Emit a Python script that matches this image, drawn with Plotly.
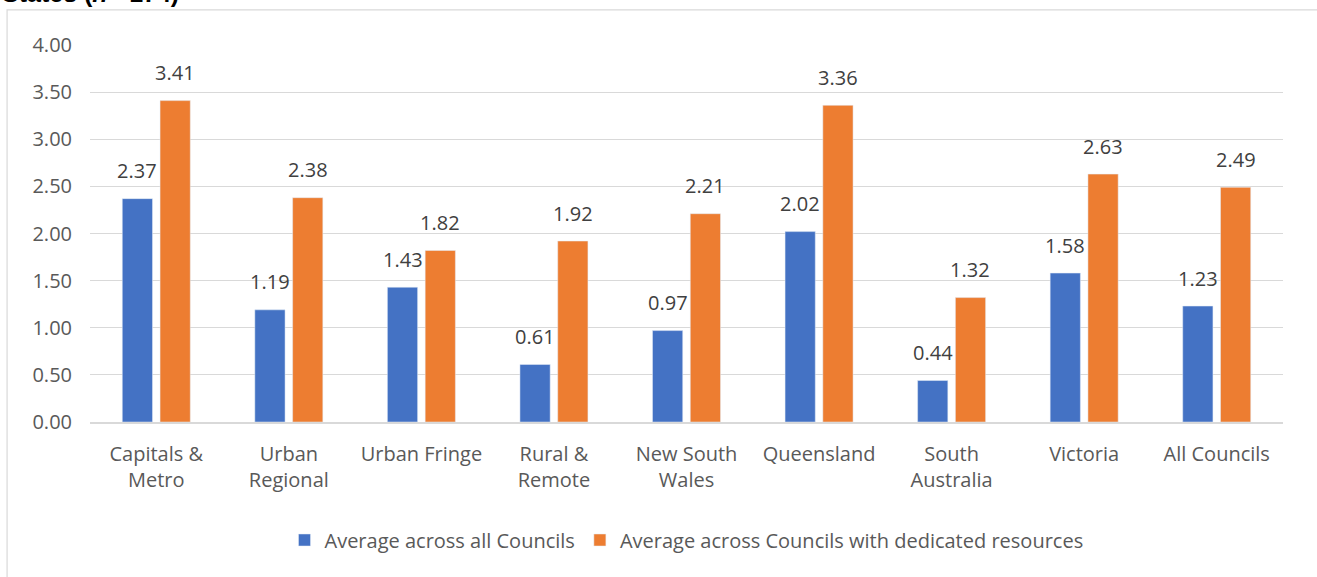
import plotly.graph_objects as go

categories = ["Capitals &<br>Metro", "Urban<br>Regional", "Urban Fringe", "Rural &<br>Remote",
              "New South<br>Wales", "Queensland", "South<br>Australia", "Victoria", "All Councils"]
avg_all = [2.37, 1.19, 1.43, 0.61, 0.97, 2.02, 0.44, 1.58, 1.23]
avg_dedicated = [3.41, 2.38, 1.82, 1.92, 2.21, 3.36, 1.32, 2.63, 2.49]
y_ticks = [0, 0.5, 1.0, 1.5, 2.0, 2.5, 3.0, 3.5, 4.0]

FONT = "Open Sans"
BLUE = "#4472C4"
ORANGE = "#ED7D31"
BARGAP = 0.43
GROUPGAP = 0.2
PLOT_W = 1317 - 90 - 34

fig = go.Figure()
fig.add_trace(go.Bar(x=categories, y=avg_all, name="Average across all Councils",
                     marker_color=BLUE))
fig.add_trace(go.Bar(x=categories, y=avg_dedicated,
                     name="Average across Councils with dedicated resources",
                     marker_color=ORANGE))

# value labels above each bar, shifted onto its bar within the group
slot = PLOT_W / len(categories) * (1 - BARGAP) / 2
annotations = []
for series, shift in ((avg_all, -slot / 2), (avg_dedicated, slot / 2)):
    for cat, v in zip(categories, series):
        annotations.append(dict(x=cat, y=v, text=f"{v:.2f}", showarrow=False,
                                xshift=shift, yshift=28, yanchor="middle",
                                font=dict(size=20, color="#404040", family=FONT)))

annotations.append(dict(text="<b>States (<i>n</i>= 174)</b>", xref="paper", yref="paper",
                        x=-0.0755, y=1.0955, xanchor="left", yanchor="bottom", showarrow=False,
                        font=dict(size=25, color="#000000", family="Liberation Sans")))

fig.update_layout(
    width=1317, height=577,
    margin=dict(l=90, r=34, t=45, b=155),
    paper_bgcolor="white", plot_bgcolor="white",
    barmode="group", bargap=BARGAP, bargroupgap=GROUPGAP,
    font=dict(family=FONT, color="#595959", size=20),
    showlegend=True,
    legend=dict(orientation="h", x=0.5, xanchor="center", y=-0.313, yanchor="middle",
                font=dict(size=20, color="#595959", family=FONT),
                itemwidth=30, tracegroupgap=0),
    xaxis=dict(showgrid=False, showline=True, linecolor="#d9d9d9", linewidth=1.5,
               ticks="", ticklabelstandoff=13, tickfont=dict(size=20, color="#595959")),
    yaxis=dict(range=[0, 4], tickvals=y_ticks, tickformat=".2f",
               showgrid=True, gridcolor="#d9d9d9", gridwidth=1.3,
               zeroline=False, showline=False, ticks="",
               ticklabelstandoff=17,
               tickfont=dict(size=20, color="#595959")),
    shapes=[dict(type="rect", xref="paper", yref="paper",
                 x0=-0.0695, x1=1.1, y0=-0.5, y1=1.093,
                 line=dict(color="#d9d9d9", width=1.2), fillcolor="rgba(0,0,0,0)", layer="below")],
    annotations=annotations,
)

fig.write_html("out.html")
